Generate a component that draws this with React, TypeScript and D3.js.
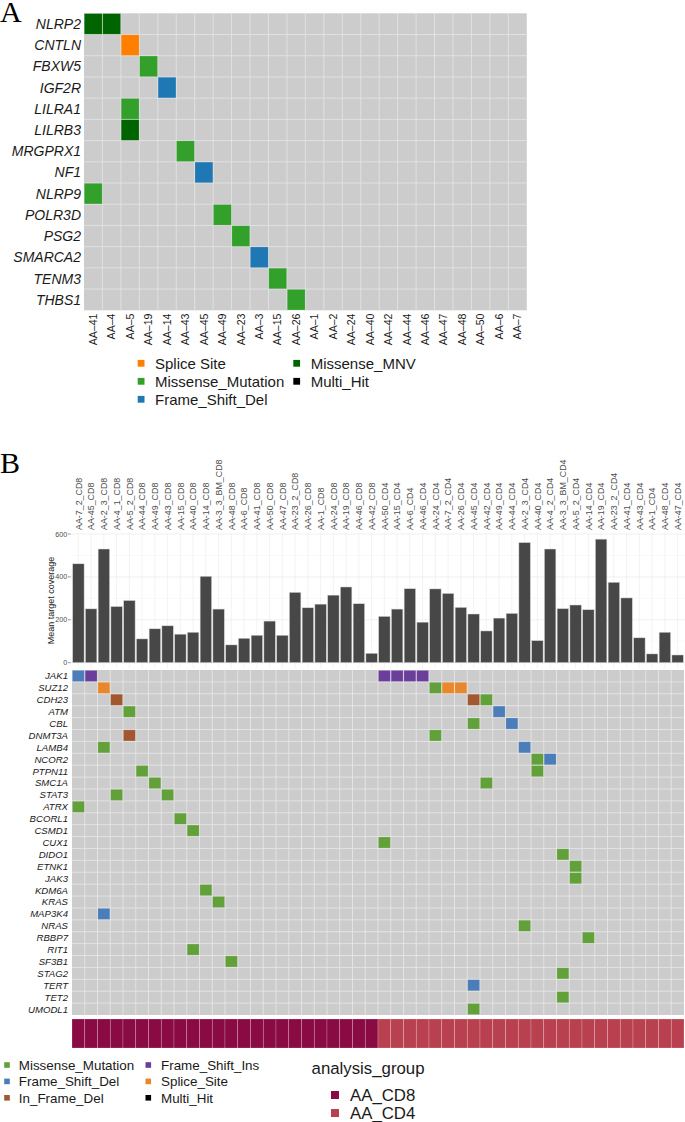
import React from "react";
import * as d3 from "d3";

// ---------- Panel A data ----------
const A_SAMPLES = ["AA–41","AA–4","AA–5","AA–19","AA–14","AA–43","AA–45","AA–49","AA–23","AA–3","AA–15","AA–26","AA–1","AA–2","AA–24","AA–40","AA–42","AA–44","AA–46","AA–47","AA–48","AA–50","AA–6","AA–7"];
const A_GENES = ["NLRP2","CNTLN","FBXW5","IGF2R","LILRA1","LILRB3","MRGPRX1","NF1","NLRP9","POLR3D","PSG2","SMARCA2","TENM3","THBS1"];
const A_MUTATIONS: [string, string, string][] = [
  ["NLRP2","AA–41","Missense_MNV"],["NLRP2","AA–4","Missense_MNV"],
  ["CNTLN","AA–5","Splice Site"],["FBXW5","AA–19","Missense_Mutation"],
  ["IGF2R","AA–14","Frame_Shift_Del"],["LILRA1","AA–5","Missense_Mutation"],
  ["LILRB3","AA–5","Missense_MNV"],["MRGPRX1","AA–43","Missense_Mutation"],
  ["NF1","AA–45","Frame_Shift_Del"],["NLRP9","AA–41","Missense_Mutation"],
  ["POLR3D","AA–49","Missense_Mutation"],["PSG2","AA–23","Missense_Mutation"],
  ["SMARCA2","AA–3","Frame_Shift_Del"],["TENM3","AA–15","Missense_Mutation"],
  ["THBS1","AA–26","Missense_Mutation"],
];
const A_TYPES = ["Splice Site","Missense_Mutation","Frame_Shift_Del","Missense_MNV","Multi_Hit"];
const A_COLORS = ["#FF7F00","#33A02C","#1F78B4","#006400","#000000"];

// ---------- Panel B data ----------
const B_SAMPLES = [
  "AA-7_2_CD8","AA-45_CD8","AA-2_3_CD8","AA-4_1_CD8","AA-5_2_CD8","AA-44_CD8","AA-49_CD8","AA-43_CD8","AA-15_CD8","AA-40_CD8","AA-14_CD8","AA-3_3_BM_CD8","AA-48_CD8","AA-6_CD8","AA-41_CD8","AA-50_CD8","AA-47_CD8","AA-23_2_CD8","AA-26_CD8","AA-1_CD8","AA-24_CD8","AA-19_CD8","AA-46_CD8","AA-42_CD8",
  "AA-50_CD4","AA-15_CD4","AA-6_CD4","AA-46_CD4","AA-24_CD4","AA-7_2_CD4","AA-26_CD4","AA-45_CD4","AA-42_CD4","AA-49_CD4","AA-44_CD4","AA-2_3_CD4","AA-40_CD4","AA-4_2_CD4","AA-3_3_BM_CD4","AA-5_2_CD4","AA-14_CD4","AA-19_CD4","AA-23_2_CD4","AA-41_CD4","AA-43_CD4","AA-1_CD4","AA-48_CD4","AA-47_CD4",
];
const B_COVERAGE = [
  461,251,530,262,290,111,158,172,133,142,403,250,83,114,128,194,128,328,256,273,315,353,275,44,
  216,250,345,189,344,323,258,227,148,208,230,560,103,530,252,269,247,576,375,302,116,41,142,36,
];
const B_GROUPS = ["AA_CD8","AA_CD4"];
const B_GROUP_COLORS = ["#8A0A43","#B8404F"];
const B_GENES = ["JAK1","SUZ12","CDH23","ATM","CBL","DNMT3A","LAMB4","NCOR2","PTPN11","SMC1A","STAT3","ATRX","BCORL1","CSMD1","CUX1","DIDO1","ETNK1","JAK3","KDM6A","KRAS","MAP3K4","NRAS","RBBP7","RIT1","SF3B1","STAG2","TERT","TET2","UMODL1"];
const B_MUTATIONS: [string, string, string][] = [
  ["JAK1","AA-7_2_CD8","Frame_Shift_Del"],["JAK1","AA-45_CD8","Frame_Shift_Ins"],
  ["JAK1","AA-50_CD4","Frame_Shift_Ins"],["JAK1","AA-15_CD4","Frame_Shift_Ins"],
  ["JAK1","AA-6_CD4","Frame_Shift_Ins"],["JAK1","AA-46_CD4","Frame_Shift_Ins"],
  ["SUZ12","AA-2_3_CD8","Splice_Site"],["SUZ12","AA-24_CD4","Missense_Mutation"],
  ["SUZ12","AA-7_2_CD4","Splice_Site"],["SUZ12","AA-26_CD4","Splice_Site"],
  ["CDH23","AA-4_1_CD8","In_Frame_Del"],["CDH23","AA-45_CD4","In_Frame_Del"],
  ["CDH23","AA-42_CD4","Missense_Mutation"],
  ["ATM","AA-5_2_CD8","Missense_Mutation"],["ATM","AA-49_CD4","Frame_Shift_Del"],
  ["CBL","AA-45_CD4","Missense_Mutation"],["CBL","AA-44_CD4","Frame_Shift_Del"],
  ["DNMT3A","AA-5_2_CD8","In_Frame_Del"],["DNMT3A","AA-24_CD4","Missense_Mutation"],
  ["LAMB4","AA-2_3_CD8","Missense_Mutation"],["LAMB4","AA-2_3_CD4","Frame_Shift_Del"],
  ["NCOR2","AA-40_CD4","Missense_Mutation"],["NCOR2","AA-4_2_CD4","Frame_Shift_Del"],
  ["PTPN11","AA-44_CD8","Missense_Mutation"],["PTPN11","AA-40_CD4","Missense_Mutation"],
  ["SMC1A","AA-49_CD8","Missense_Mutation"],["SMC1A","AA-42_CD4","Missense_Mutation"],
  ["STAT3","AA-4_1_CD8","Missense_Mutation"],["STAT3","AA-43_CD8","Missense_Mutation"],
  ["ATRX","AA-7_2_CD8","Missense_Mutation"],
  ["BCORL1","AA-15_CD8","Missense_Mutation"],
  ["CSMD1","AA-40_CD8","Missense_Mutation"],
  ["CUX1","AA-50_CD4","Missense_Mutation"],
  ["DIDO1","AA-3_3_BM_CD4","Missense_Mutation"],
  ["ETNK1","AA-5_2_CD4","Missense_Mutation"],
  ["JAK3","AA-5_2_CD4","Missense_Mutation"],
  ["KDM6A","AA-14_CD8","Missense_Mutation"],
  ["KRAS","AA-3_3_BM_CD8","Missense_Mutation"],
  ["MAP3K4","AA-2_3_CD8","Frame_Shift_Del"],
  ["NRAS","AA-2_3_CD4","Missense_Mutation"],
  ["RBBP7","AA-14_CD4","Missense_Mutation"],
  ["RIT1","AA-40_CD8","Missense_Mutation"],
  ["SF3B1","AA-48_CD8","Missense_Mutation"],
  ["STAG2","AA-3_3_BM_CD4","Missense_Mutation"],
  ["TERT","AA-45_CD4","Frame_Shift_Del"],
  ["TET2","AA-3_3_BM_CD4","Missense_Mutation"],
  ["UMODL1","AA-45_CD4","Missense_Mutation"],
];
const B_TYPES = ["Missense_Mutation","Frame_Shift_Del","In_Frame_Del","Frame_Shift_Ins","Splice_Site","Multi_Hit"];
const B_COLORS = ["#62A03A","#4A7DB9","#A1572F","#6A3E9A","#E8872B","#000000"];
const B_Y_TICKS = [0, 200, 400, 600];
const B_Y_MINOR = [100, 300, 500];

const SANS = "'Liberation Sans', Arial, Helvetica, sans-serif";
const SERIF = "'Liberation Serif', 'Times New Roman', serif";

export default function App() {
  // ---- Panel A scales
  const ax = d3.scaleBand<string>().domain(A_SAMPLES).range([84, 84 + 24 * 18.45]);
  const ay = d3.scaleBand<string>().domain(A_GENES).range([13.3, 310.3]);
  const aColor = d3.scaleOrdinal<string, string>().domain(A_TYPES).range(A_COLORS);

  // ---- Panel B scales
  const bx = d3.scaleBand<string>().domain(B_SAMPLES).range([72, 684]);
  const by = d3.scaleBand<string>().domain(B_GENES).range([670, 1015]);
  const bColor = d3.scaleOrdinal<string, string>().domain(B_TYPES).range(B_COLORS);
  const gColor = d3.scaleOrdinal<string, string>().domain(B_GROUPS).range(B_GROUP_COLORS);
  const yCov = d3.scaleLinear().domain([0, 600]).range([662.7, 534]);
  const panelLeft = 70.7, panelRight = 685;
  const panelTop = yCov(606), panelBottom = yCov(-25);
  const groupOf = (s: string) => (s.endsWith("CD8") ? "AA_CD8" : "AA_CD4");

  const aw = ax.bandwidth(), ah = ay.bandwidth();
  const bw = bx.bandwidth(), bh = by.bandwidth();

  return (
    <div style={{ position: "absolute", left: 0, top: 0 }}>
      <svg width={685} height={1122} style={{ display: "block" }} fontFamily={SANS}>
        <rect width={685} height={1122} fill="#fff" />
        {/* ================= Panel A ================= */}
        <text x={0} y={21.7} fontFamily={SERIF} fontSize={30}>A</text>
        <rect x={ax.range()[0]} y={ay.range()[0]} width={ax.range()[1] - ax.range()[0]} height={ay.range()[1] - ay.range()[0]} fill="#CCCCCC" />
        {A_SAMPLES.slice(1).map((s) => (
          <line key={"av" + s} x1={ax(s)} x2={ax(s)} y1={ay.range()[0]} y2={ay.range()[1]} stroke="#E6E6E6" strokeWidth={0.8} />
        ))}
        {A_GENES.slice(1).map((g) => (
          <line key={"ah" + g} x1={ax.range()[0]} x2={ax.range()[1]} y1={ay(g)} y2={ay(g)} stroke="#E6E6E6" strokeWidth={0.8} />
        ))}
        {A_MUTATIONS.map(([g, s, t], i) => (
          <rect key={"am" + i} x={(ax(s) as number) + 0.3} y={(ay(g) as number) + 0.3} width={aw - 0.6} height={ah - 0.6} fill={aColor(t)} stroke="#ffffff" strokeOpacity={0.25} strokeWidth={0.6} />
        ))}
        {A_GENES.map((g) => (
          <text key={"agl" + g} x={81} y={(ay(g) as number) + ah / 2} dy="0.36em" textAnchor="end" fontSize={14} fontStyle="italic" fill="#1A1A1A">{g}</text>
        ))}
        {A_SAMPLES.map((s) => {
          const cx = (ax(s) as number) + aw / 2 + 3.7;
          return (
            <text key={"axl" + s} transform={`translate(${cx},313.5) rotate(-90)`} textAnchor="end" fontSize={10.6} fill="#1A1A1A">{s}</text>
          );
        })}
        {/* Legend A */}
        {A_TYPES.map((t, i) => {
          const col = i < 3 ? 0 : 1;
          const row = i < 3 ? i : i - 3;
          const sx = col === 0 ? 137.7 : 293.3;
          const tx = col === 0 ? 155 : 310.7;
          const cy = 363.3 + row * 18;
          return (
            <g key={"al" + t}>
              <rect x={sx} y={cy - 3.4} width={6.8} height={6.8} fill={aColor(t)} />
              <text x={tx} y={cy} dy="0.36em" fontSize={15} fill="#1A1A1A">{t}</text>
            </g>
          );
        })}

        {/* ================= Panel B ================= */}
        <text x={0} y={473.3} fontFamily={SERIF} fontSize={30}>B</text>
        {/* column labels */}
        {B_SAMPLES.map((s) => {
          const cx = (bx(s) as number) + bw / 2 + 3.2;
          return (
            <text key={"bxl" + s} transform={`translate(${cx},530) rotate(-90)`} textAnchor="start" fontSize={8.9} fill="#4D4D4D">{s}</text>
          );
        })}
        {/* bar panel */}
        {B_Y_MINOR.map((v) => (
          <line key={"bmin" + v} x1={panelLeft} x2={panelRight} y1={yCov(v)} y2={yCov(v)} stroke="#F3F3F3" strokeWidth={0.5} />
        ))}
        {B_SAMPLES.map((s) => (
          <line key={"bvg" + s} x1={(bx(s) as number) + bw / 2} x2={(bx(s) as number) + bw / 2} y1={panelTop} y2={panelBottom} stroke="#EBEBEB" strokeWidth={0.6} />
        ))}
        {B_Y_TICKS.map((v) => (
          <line key={"bmaj" + v} x1={panelLeft} x2={panelRight} y1={yCov(v)} y2={yCov(v)} stroke="#EBEBEB" strokeWidth={0.7} />
        ))}
        {B_SAMPLES.map((s, i) => {
          const w = bw * 0.9;
          const x0 = (bx(s) as number) + (bw - w) / 2;
          return (
            <rect key={"bar" + s} x={x0} y={yCov(B_COVERAGE[i])} width={w} height={yCov(0) - yCov(B_COVERAGE[i])} fill="#474747" stroke="#D9D9D9" strokeWidth={0.5} />
          );
        })}
        {B_Y_TICKS.map((v) => (
          <g key={"byt" + v}>
            <line x1={68} x2={70.7} y1={yCov(v)} y2={yCov(v)} stroke="#333" strokeWidth={0.5} />
            <text x={67.3} y={yCov(v)} dy="0.35em" textAnchor="end" fontSize={7.2} fill="#4D4D4D">{v}</text>
          </g>
        ))}
        <text transform={`translate(53.5,600.5) rotate(-90)`} textAnchor="middle" fontSize={9} fill="#1A1A1A">Mean target coverage</text>

        {/* oncoplot B */}
        <rect x={72} y={670} width={612} height={345} fill="#CCCCCC" />
        {B_SAMPLES.slice(1).map((s) => (
          <line key={"bv" + s} x1={bx(s)} x2={bx(s)} y1={670} y2={1015} stroke="#E8E8E8" strokeWidth={0.8} />
        ))}
        {B_GENES.slice(1).map((g) => (
          <line key={"bh" + g} x1={72} x2={684} y1={by(g)} y2={by(g)} stroke="#E8E8E8" strokeWidth={0.8} />
        ))}
        {B_MUTATIONS.map(([g, s, t], i) => (
          <rect key={"bm" + i} x={(bx(s) as number) + 0.4} y={(by(g) as number) + 0.4} width={bw - 0.8} height={bh - 0.8} fill={bColor(t)} stroke="#ffffff" strokeOpacity={0.3} strokeWidth={0.6} />
        ))}
        {B_GENES.map((g) => (
          <text key={"bgl" + g} x={68} y={(by(g) as number) + bh / 2} dy="0.36em" textAnchor="end" fontSize={9.6} fontStyle="italic" fill="#1A1A1A">{g}</text>
        ))}

        {/* annotation bar */}
        {B_SAMPLES.map((s) => (
          <rect key={"ann" + s} x={bx(s)} y={1019} width={bw} height={29} fill={gColor(groupOf(s))} stroke="#ffffff" strokeOpacity={0.35} strokeWidth={0.6} />
        ))}

        {/* legend B */}
        {B_TYPES.map((t, i) => {
          const col = i < 3 ? 0 : 1;
          const row = i % 3;
          const sx = col === 0 ? 4.2 : 145.5;
          const tx = col === 0 ? 18.8 : 161;
          const cy = 1065 + row * 16.4;
          return (
            <g key={"bl" + t}>
              <rect x={sx} y={cy - 2.8} width={5.6} height={5.6} fill={bColor(t)} />
              <text x={tx} y={cy} dy="0.36em" fontSize={13.4} fill="#1A1A1A">{t}</text>
            </g>
          );
        })}
        <text x={311.6} y={1068} dy="0.36em" fontSize={16.8} fill="#1A1A1A">analysis_group</text>
        {B_GROUPS.map((g, i) => {
          const cy = 1095 + i * 18;
          return (
            <g key={"gl" + g}>
              <rect x={331} y={cy - 4} width={8} height={8} fill={gColor(g)} />
              <text x={350} y={cy} dy="0.36em" fontSize={16.8} fill="#1A1A1A">{g}</text>
            </g>
          );
        })}
      </svg>
    </div>
  );
}
